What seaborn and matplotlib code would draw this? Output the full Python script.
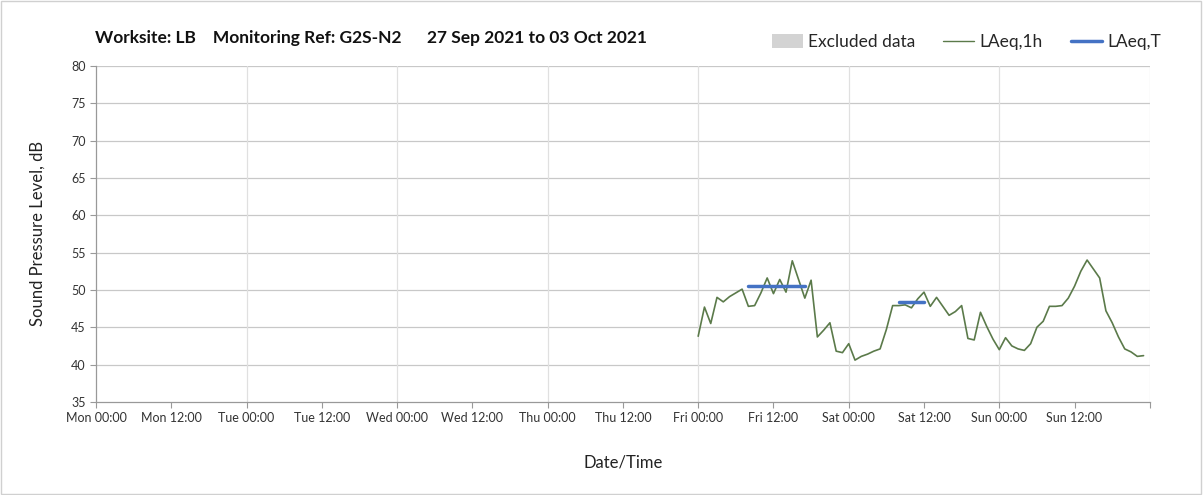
import matplotlib
matplotlib.use("Agg")
import matplotlib.pyplot as plt
from matplotlib.patches import Patch, Rectangle
from matplotlib.lines import Line2D
import seaborn as sns
import pandas as pd
import numpy as np

# ---- data ----
tick_labels = ["Mon 00:00", "Mon 12:00", "Tue 00:00", "Tue 12:00", "Wed 00:00", "Wed 12:00",
               "Thu 00:00", "Thu 12:00", "Fri 00:00", "Fri 12:00", "Sat 00:00", "Sat 12:00",
               "Sun 00:00", "Sun 12:00"]
start_hour = 96  # Fri 00:00, hours from Mon 00:00
laeq_1h = [43.8, 47.7, 45.5, 49.0, 48.4, 49.1, 49.6, 50.1, 47.8, 47.9,
           49.6, 51.6, 49.5, 51.4, 49.7, 53.9, 51.4, 48.9, 51.3, 43.7,
           44.6, 45.6, 41.8, 41.6, 42.8, 40.6, 41.1, 41.4, 41.8, 42.1,
           44.7, 47.9, 47.9, 48.0, 47.6, 48.8, 49.7, 47.8, 49.0, 47.8,
           46.6, 47.1, 47.9, 43.5, 43.3, 47.0, 45.1, 43.4, 42.0, 43.6,
           42.5, 42.1, 41.9, 42.8, 45.0, 45.8, 47.8, 47.8, 47.9, 48.9,
           50.5, 52.5, 54.0, 52.8, 51.6, 47.2, 45.6, 43.7, 42.1, 41.7,
           41.1, 41.2]
laeq_t_start = [104, 128]   # Fri 08:00, Sat 08:00
laeq_t_end = [113, 132]     # Fri 17:00, Sat 12:00
laeq_t_value = [50.5, 48.4]

title = "Worksite: LB    Monitoring Ref: G2S-N2      27 Sep 2021 to 03 Oct 2021"

# ---- style ----
sns.set_theme(style="white")
plt.rcParams['font.family'] = ['Lato', 'DejaVu Sans']

fig = plt.figure(figsize=(12.03, 4.95), dpi=100)
ax = fig.add_axes([0.0798, 0.188, 0.876, 0.679])

df = pd.DataFrame({"hour": np.arange(len(laeq_1h)) + start_hour, "LAeq": laeq_1h})
sns.lineplot(data=df, x="hour", y="LAeq", ax=ax, color="#5b7a4a", linewidth=1.2)

for s, e, v in zip(laeq_t_start, laeq_t_end, laeq_t_value):
    tdf = pd.DataFrame({"hour": [s, e], "v": [v, v]})
    sns.lineplot(data=tdf, x="hour", y="v", ax=ax, color="#4472c4", linewidth=2.5)

ax.set_xlim(0, 168)
ax.set_ylim(35, 80)
ax.set_xticks(np.arange(0, 168, 12))
ax.set_xticklabels(tick_labels)
ax.set_xticks([168], minor=True)
ax.set_yticks(np.arange(35, 81, 5))
ax.tick_params(axis='both', which='both', labelsize=9, colors='#333333',
               length=4, width=0.8, color='#999999', direction='out')
ax.tick_params(axis='x', which='both', bottom=True)
ax.tick_params(axis='y', left=True)

ax.grid(False)
for y in np.arange(40, 81, 5):
    ax.axhline(y, color='#c8c8c8', linewidth=0.9, zorder=0)
for x in np.arange(24, 169, 24):
    ax.axvline(x, color='#e0e0e0', linewidth=0.9, zorder=0)

for side in ['top', 'right']:
    ax.spines[side].set_visible(False)
ax.spines['left'].set_color('#999999')
ax.spines['bottom'].set_color('#999999')
ax.spines['left'].set_linewidth(0.9)
ax.spines['bottom'].set_linewidth(0.9)

ax.set_xlabel("Date/Time", fontsize=12, color='#222222', labelpad=22)
ax.set_ylabel("Sound Pressure Level, dB", fontsize=12, color='#222222', labelpad=18)

fig.text(0.079, 0.923, title, fontsize=12.5, fontweight='bold', va='center', ha='left', color='#111111')

handles = [Patch(facecolor='#d3d3d3', edgecolor='none'),
           Line2D([0], [0], color='#5b7a4a', linewidth=1.0),
           Line2D([0], [0], color='#4472c4', linewidth=2.5)]
fig.legend(handles, ["Excluded data", "LAeq,1h", "LAeq,T"], loc='center right',
           bbox_to_anchor=(0.978, 0.915), ncol=3, frameon=False, fontsize=12.5,
           handlelength=1.8, handleheight=0.8, columnspacing=1.6, handletextpad=0.3)

fig.add_artist(Rectangle((0.001, 0.002), 0.997, 0.996, transform=fig.transFigure,
                         fill=False, edgecolor='#d0d0d0', linewidth=1.0))

fig.savefig("out.png", dpi=100)
